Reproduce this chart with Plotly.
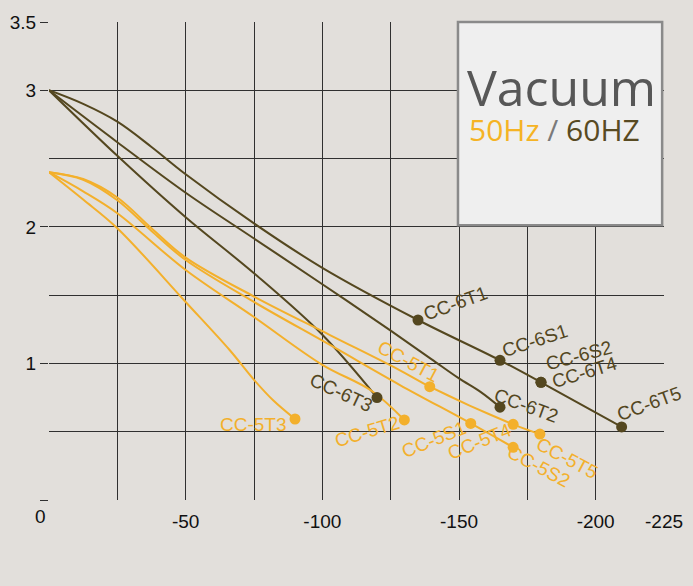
import plotly.graph_objects as go

# ---------------- data (flow, vacuum) ----------------
# 60 Hz curves
hz60_a_x = [0, -12.5, -25, -37.5, -50, -75, -100, -135, -165, -180, -209.5]
hz60_a_y = [3.0, 2.9, 2.77, 2.585, 2.385, 2.025, 1.70, 1.318, 1.023, 0.862, 0.535]
hz60_b_x = [0, -25, -50, -75, -100, -125, -140, -150, -158, -165]
hz60_b_y = [3.0, 2.62, 2.25, 1.915, 1.58, 1.24, 1.03, 0.89, 0.79, 0.68]
hz60_c_x = [0, -25, -50, -75, -100, -120]
hz60_c_y = [3.0, 2.52, 2.07, 1.66, 1.21, 0.75]

# 50 Hz curves
hz50_a_x = [0, -12.5, -25, -37.5, -50, -75, -102.8, -128.4, -139.3, -169.8, -179.6]
hz50_a_y = [2.4, 2.35, 2.215, 1.99, 1.775, 1.49, 1.208, 0.95, 0.83, 0.554, 0.483]
hz50_b_x = [0, -12.5, -25, -37.5, -50, -75, -102.8, -128.4, -154.3, -169.8]
hz50_b_y = [2.4, 2.345, 2.195, 1.97, 1.757, 1.45, 1.135, 0.842, 0.561, 0.386]
hz50_c_x = [0, -12.5, -25, -50, -75, -100, -118, -130]
hz50_c_y = [2.4, 2.26, 2.10, 1.684, 1.34, 0.99, 0.80, 0.586]
hz50_d_x = [0, -12.5, -25, -50, -66, -75, -82, -90]
hz50_d_y = [2.4, 2.2, 1.99, 1.45, 1.10, 0.88, 0.73, 0.593]

# model points
pts60_names = ["CC-6T1", "CC-6S1", "CC-6S2", "CC-6T4", "CC-6T5", "CC-6T2", "CC-6T3"]
pts60_x = [-135, -165, -180, -180, -209.5, -165, -120]
pts60_y = [1.318, 1.023, 0.862, 0.862, 0.535, 0.68, 0.75]
pts50_names = ["CC-5T1", "CC-5T2", "CC-5T3", "CC-5S1", "CC-5T4", "CC-5S2", "CC-5T5"]
pts50_x = [-139.3, -130, -90, -154.3, -169.8, -169.8, -179.6]
pts50_y = [0.83, 0.586, 0.593, 0.561, 0.554, 0.386, 0.483]

x_tickvals = [-50, -100, -150, -200, -225]
x_ticktext = ["-50", "-100", "-150", "-200", "-225"]
y_tickvals = [0, 1, 2, 3, 3.5]
y_ticktext = ["", "1", "2", "3", "3.5"]

# ---------------- styles ----------------
BG = "#e2dfdb"
DARK = "#54471f"
ORANGE = "#f3b02c"
GRID = "#303030"
FONT = "Liberation Sans, Arial, sans-serif"

# label placement (pixel offsets dx, dy(down), angle)
label_style = {
    "CC-6T1": (37, -17, -20),
    "CC-6S1": (35, -20, -18),
    "CC-6S2": (38, -27, -15),
    "CC-6T4": (43, -10, -17),
    "CC-6T5": (28, -23, -20),
    "CC-6T2": (26, -2, 20),
    "CC-6T3": (-36, -5, 25),
    "CC-5T1": (-21, -25, 28),
    "CC-5T2": (-37, 12, -17),
    "CC-5T3": (-42, 5, 0),
    "CC-5S1": (-37, 16, -22),
    "CC-5T4": (-34, 17, -22),
    "CC-5S2": (26, 19, 28),
    "CC-5T5": (28, 24, 28),
}

fig = go.Figure()

for xs, ys in [(hz60_a_x, hz60_a_y), (hz60_b_x, hz60_b_y), (hz60_c_x, hz60_c_y)]:
    fig.add_trace(go.Scatter(x=xs, y=ys, mode="lines",
                             line=dict(color=DARK, width=2, shape="spline", smoothing=1.0),
                             hoverinfo="skip", showlegend=False))
for xs, ys in [(hz50_a_x, hz50_a_y), (hz50_b_x, hz50_b_y), (hz50_c_x, hz50_c_y), (hz50_d_x, hz50_d_y)]:
    fig.add_trace(go.Scatter(x=xs, y=ys, mode="lines",
                             line=dict(color=ORANGE, width=2, shape="spline", smoothing=1.0),
                             hoverinfo="skip", showlegend=False))

fig.add_trace(go.Scatter(x=pts60_x, y=pts60_y, mode="markers",
                         marker=dict(color=DARK, size=11), showlegend=False, hoverinfo="skip"))
fig.add_trace(go.Scatter(x=pts50_x, y=pts50_y, mode="markers",
                         marker=dict(color=ORANGE, size=11), showlegend=False, hoverinfo="skip"))

for names, xs, ys, col in [(pts60_names, pts60_x, pts60_y, DARK), (pts50_names, pts50_x, pts50_y, ORANGE)]:
    for n, xv, yv in zip(names, xs, ys):
        dx, dy, ang = label_style[n]
        fig.add_annotation(x=xv, y=yv, text=n, showarrow=False, xanchor="center", yanchor="middle",
                           xshift=dx, yshift=-dy, textangle=ang,
                           font=dict(family=FONT, size=19, color=col))

# origin label
fig.add_annotation(x=0, y=0, text="0", showarrow=False, xanchor="center", yanchor="middle",
                   xshift=-9, yshift=-16, font=dict(family=FONT, size=19, color="#111"))

# legend panel
fig.add_shape(type="rect", xref="paper", yref="paper", x0=0.665, x1=0.997, y0=0.575, y1=1.0,
              fillcolor="#efefef", line=dict(color="#8a8a8a", width=2.5), layer="above")
fig.add_annotation(xref="paper", yref="paper", x=0.834, y=0.865, text="Vacuum", showarrow=False,
                   xanchor="center", yanchor="middle",
                   font=dict(family="Open Sans, sans-serif", size=50, color="#575757"))
fig.add_annotation(xref="paper", yref="paper", x=0.68, y=0.776, showarrow=False,
                   xanchor="left", yanchor="middle",
                   text=("<span style='color:%s'>50Hz</span> <span style='color:#7a7a7a'>/</span> "
                         "<span style='color:%s'>60HZ</span>") % ("#f5b324", "#584a22"),
                   font=dict(family="Open Sans, sans-serif", size=30))

fig.update_layout(
    width=693, height=586,
    paper_bgcolor=BG, plot_bgcolor=BG,
    margin=dict(l=49, r=29, t=22, b=86, autoexpand=False),
    font=dict(family=FONT, size=19, color="#111"),
    xaxis=dict(range=[0, -225], tickvals=x_tickvals, ticktext=x_ticktext, automargin=False,
               showgrid=False, zeroline=False, showline=False, ticks="", ticklabelstandoff=8,
               tickfont=dict(size=19, family=FONT, color="#111"),
               minor=dict(dtick=25, tick0=0, showgrid=True, gridcolor=GRID, gridwidth=1.4)),
    yaxis=dict(range=[0, 3.5], tickvals=y_tickvals, ticktext=y_ticktext, automargin=False,
               showgrid=False, zeroline=False, showline=False,
               ticks="outside", ticklen=8, tickcolor=GRID, tickwidth=1.4,
               tickfont=dict(size=19, family=FONT, color="#111"),
               minor=dict(dtick=0.5, tick0=0, showgrid=True, gridcolor=GRID, gridwidth=1.4)),
)

fig.write_html("out.html", config={"displayModeBar": False},
               post_script="document.body.style.margin='0';document.body.style.background='%s';" % BG)
